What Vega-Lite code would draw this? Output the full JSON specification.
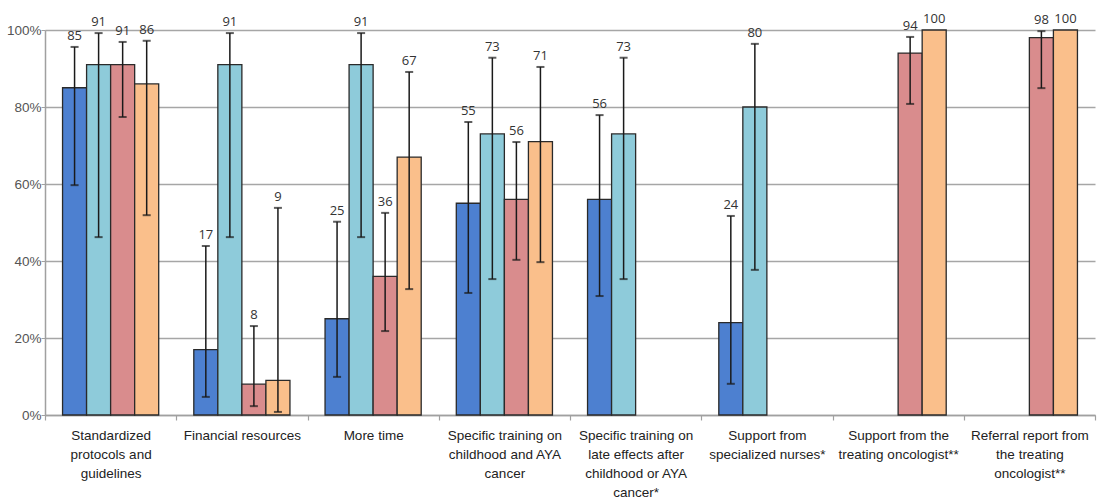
{
  "$schema": "https://vega.github.io/schema/vega-lite/v6.json",
  "width": 1050,
  "height": 385,
  "autosize": {"type": "none"},
  "padding": {"left": 45, "top": 30, "right": 4, "bottom": 82},
  "background": "white",
  "config": {"view": {"stroke": null}},
  "data": {
    "values": [
      {"cat": "Standardized\nprotocols and\nguidelines", "series": "Series 1", "value": 85, "lo": 59.7, "hi": 95.6},
      {"cat": "Standardized\nprotocols and\nguidelines", "series": "Series 2", "value": 91, "lo": 46.2, "hi": 99.2},
      {"cat": "Standardized\nprotocols and\nguidelines", "series": "Series 3", "value": 91, "lo": 77.4, "hi": 96.9},
      {"cat": "Standardized\nprotocols and\nguidelines", "series": "Series 4", "value": 86, "lo": 51.9, "hi": 97.2},
      {"cat": "Financial resources", "series": "Series 1", "value": 17, "lo": 4.7, "hi": 43.9},
      {"cat": "Financial resources", "series": "Series 2", "value": 91, "lo": 46.2, "hi": 99.2},
      {"cat": "Financial resources", "series": "Series 3", "value": 8, "lo": 2.3, "hi": 23.1},
      {"cat": "Financial resources", "series": "Series 4", "value": 9, "lo": 0.8, "hi": 53.8},
      {"cat": "More time", "series": "Series 1", "value": 25, "lo": 9.9, "hi": 50.2},
      {"cat": "More time", "series": "Series 2", "value": 91, "lo": 46.2, "hi": 99.2},
      {"cat": "More time", "series": "Series 3", "value": 36, "lo": 21.8, "hi": 52.5},
      {"cat": "More time", "series": "Series 4", "value": 67, "lo": 32.7, "hi": 89.1},
      {"cat": "Specific training on\nchildhood and AYA\ncancer", "series": "Series 1", "value": 55, "lo": 31.7, "hi": 76.1},
      {"cat": "Specific training on\nchildhood and AYA\ncancer", "series": "Series 2", "value": 73, "lo": 35.3, "hi": 92.8},
      {"cat": "Specific training on\nchildhood and AYA\ncancer", "series": "Series 3", "value": 56, "lo": 40.3, "hi": 70.9},
      {"cat": "Specific training on\nchildhood and AYA\ncancer", "series": "Series 4", "value": 71, "lo": 39.7, "hi": 90.4},
      {"cat": "Specific training on\nlate effects after\nchildhood or AYA\ncancer*", "series": "Series 1", "value": 56, "lo": 30.9, "hi": 77.9},
      {"cat": "Specific training on\nlate effects after\nchildhood or AYA\ncancer*", "series": "Series 2", "value": 73, "lo": 35.3, "hi": 92.8},
      {"cat": "Support from\nspecialized nurses*", "series": "Series 1", "value": 24, "lo": 8.1, "hi": 51.7},
      {"cat": "Support from\nspecialized nurses*", "series": "Series 2", "value": 80, "lo": 37.7, "hi": 96.4},
      {"cat": "Support from the\ntreating oncologist**", "series": "Series 3", "value": 94, "lo": 80.8, "hi": 98.2},
      {"cat": "Support from the\ntreating oncologist**", "series": "Series 4", "value": 100, "lo": null, "hi": null},
      {"cat": "Referral report from\nthe treating\noncologist**", "series": "Series 3", "value": 98, "lo": 84.9, "hi": 99.7},
      {"cat": "Referral report from\nthe treating\noncologist**", "series": "Series 4", "value": 100, "lo": null, "hi": null}
    ]
  },
  "encoding": {
    "x": {
      "field": "cat", "type": "nominal", "sort": null, "title": null,
      "scale": {"paddingInner": 0, "paddingOuter": 0},
      "axis": {
        "labelAngle": 0, "labelExpr": "isValid(datum.value) ? split(datum.value, '\\n') : ''",
        "labelFont": "Liberation Sans", "labelFontSize": 13.5, "labelColor": "#222",
        "labelLineHeight": 19, "labelPadding": 8, "labelLimit": 300, "labelBaseline": "top",
        "domainColor": "#A0A0A0", "domainWidth": 1.5, "tickColor": "#A0A0A0", "tickWidth": 1.2,
        "tickSize": 5, "tickBand": "extent", "grid": false
      }
    },
    "xOffset": {"field": "series", "type": "nominal", "scale": {"domain": ["Series 1", "Series 2", "Series 3", "Series 4"], "paddingInner": 0, "paddingOuter": 0.73}}
  },
  "layer": [
    {
      "mark": {"type": "bar", "stroke": "#2a2a2a", "strokeWidth": 1.3},
      "encoding": {
        "y": {
          "field": "value", "type": "quantitative", "title": null,
          "scale": {"domain": [0, 100], "nice": false},
          "axis": {
            "values": [0, 20, 40, 60, 80, 100], "labelExpr": "datum.value + '%'",
            "labelFont": "Liberation Sans", "labelFontSize": 13.5, "labelColor": "#555",
            "labelPadding": 0, "tickSize": 4, "tickColor": "#A0A0A0", "domainColor": "#A0A0A0",
            "domainWidth": 1.5, "grid": true, "gridColor": "#A6A6A6", "gridWidth": 1.3
          }
        },
        "color": {
          "field": "series", "type": "nominal", "legend": null,
          "scale": {"domain": ["Series 1", "Series 2", "Series 3", "Series 4"], "range": ["#4D80D0", "#8ECBDA", "#D98C8D", "#FABF8B"]}
        }
      }
    },
    {
      "transform": [{"filter": "isValid(datum.hi)"}],
      "mark": {"type": "rule", "color": "#1a1a1a", "strokeWidth": 1.5},
      "encoding": {"y": {"field": "lo", "type": "quantitative"}, "y2": {"field": "hi"}}
    },
    {
      "transform": [{"filter": "isValid(datum.hi)"}],
      "mark": {"type": "tick", "color": "#1a1a1a", "size": 8, "thickness": 2, "orient": "horizontal"},
      "encoding": {"y": {"field": "hi", "type": "quantitative"}}
    },
    {
      "transform": [{"filter": "isValid(datum.lo)"}],
      "mark": {"type": "tick", "color": "#1a1a1a", "size": 8, "thickness": 2, "orient": "horizontal"},
      "encoding": {"y": {"field": "lo", "type": "quantitative"}}
    },
    {
      "transform": [{"filter": "isValid(datum.hi)"}],
      "mark": {"type": "text", "font": "Open Sans", "fontSize": 13, "color": "#333", "baseline": "bottom", "dy": -4},
      "encoding": {"y": {"field": "hi", "type": "quantitative"}, "text": {"field": "value", "type": "quantitative", "format": "d"}}
    },
    {
      "transform": [{"filter": "!isValid(datum.hi)"}],
      "mark": {"type": "text", "font": "Open Sans", "fontSize": 13, "color": "#333", "baseline": "bottom", "dy": -4},
      "encoding": {"y": {"field": "value", "type": "quantitative"}, "text": {"field": "value", "type": "quantitative", "format": "d"}}
    }
  ]
}
